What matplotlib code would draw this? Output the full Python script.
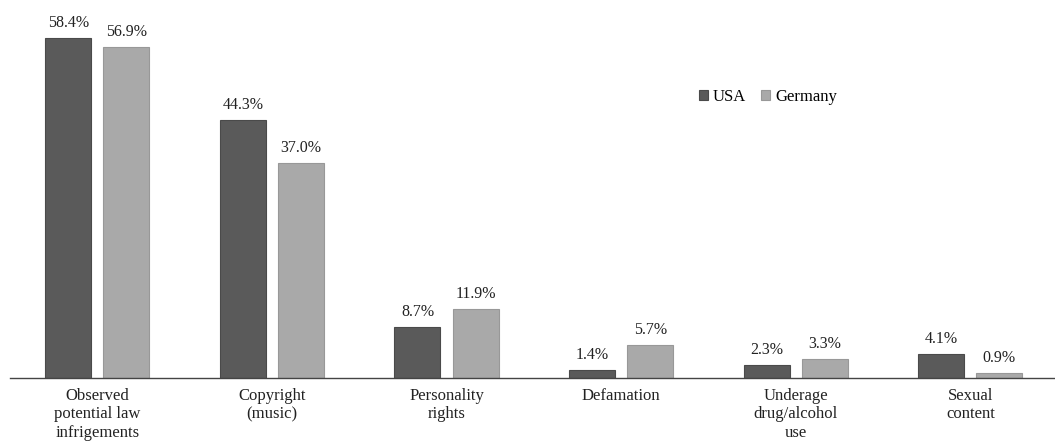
import numpy as np
import matplotlib.pyplot as plt

categories = ["Observed\npotential law\ninfrigements", "Copyright\n(music)", "Personality\nrights",
              "Defamation", "Underage\ndrug/alcohol\nuse", "Sexual\ncontent"]
usa = [58.4, 44.3, 8.7, 1.4, 2.3, 4.1]
germany = [56.9, 37.0, 11.9, 5.7, 3.3, 0.9]
usa_labels = ["58.4%", "44.3%", "8.7%", "1.4%", "2.3%", "4.1%"]
germany_labels = ["56.9%", "37.0%", "11.9%", "5.7%", "3.3%", "0.9%"]

plt.rcParams['font.family'] = ['Liberation Serif', 'DejaVu Serif']

fig = plt.figure(figsize=(10.55, 4.48), dpi=100)
ax = fig.add_axes([0.0095, 0.156, 0.9905, 0.844])

x = np.arange(len(categories))
w = 0.264
off = 0.1665

b1 = ax.bar(x - off, usa, w, color='#5a5a5a', edgecolor='#4a4a4a', linewidth=0.8, label='USA')
b2 = ax.bar(x + off, germany, w, color='#a9a9a9', edgecolor='#989898', linewidth=0.8, label='Germany')

for i in range(len(x)):
    ax.annotate(usa_labels[i], (x[i] - off, usa[i]), xytext=(0, 5), textcoords='offset points',
                ha='center', va='bottom', fontsize=11.5, color='#222222')
    ax.annotate(germany_labels[i], (x[i] + off, germany[i]), xytext=(0, 5), textcoords='offset points',
                ha='center', va='bottom', fontsize=11.5, color='#222222')

ax.set_xlim(-0.5, 5.485)
ax.set_ylim(0, 64.9)
ax.set_xticks(x)
ax.set_xticklabels(categories, fontsize=12, color='#222222', linespacing=1.2)
ax.tick_params(axis='x', length=0, pad=7)
ax.set_yticks([])
for s in ['top', 'right', 'left']:
    ax.spines[s].set_visible(False)
ax.spines['bottom'].set_color('#444444')
ax.spines['bottom'].set_linewidth(1.0)

ax.legend(loc='center', bbox_to_anchor=(765 / 1055, 1 - 97 / 378), ncol=2, frameon=False,
          fontsize=12, handlelength=0.55, handleheight=0.55, handletextpad=0.3, columnspacing=0.9)

fig.savefig('out.png', dpi=100)
